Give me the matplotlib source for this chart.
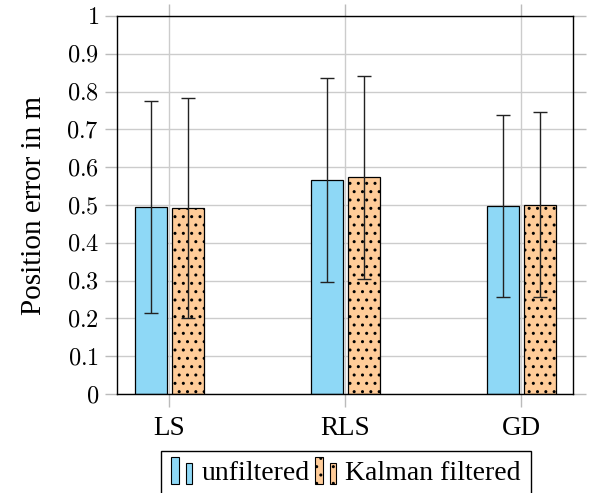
import numpy as np
import matplotlib
matplotlib.use("Agg")
import matplotlib.pyplot as plt
from matplotlib.patches import Rectangle
from matplotlib.legend_handler import HandlerBase

plt.rcParams['font.family'] = ['Liberation Serif', 'DejaVu Serif']
plt.rcParams['mathtext.fontset'] = 'cm'
plt.rcParams['hatch.linewidth'] = 1.0

# data
methods = ["LS", "RLS", "GD"]
unfiltered_mean = [0.495, 0.566, 0.497]
unfiltered_err = [0.280, 0.270, 0.241]
kalman_mean = [0.492, 0.573, 0.501]
kalman_err = [0.290, 0.268, 0.245]
y_ticks = [0, 0.1, 0.2, 0.3, 0.4, 0.5, 0.6, 0.7, 0.8, 0.9, 1]

blue = "#8ed8f6"
orange = "#ffcc99"


class TwoBarHandler(HandlerBase):
    # pgfplots style ybar legend: two small bars
    def create_artists(self, legend, orig, xd, yd, width, height, fontsize, trans):
        fc = orig.get_facecolor()
        hatch = orig.get_hatch()
        r1 = Rectangle((xd + 0.0 * width, yd - 0.2 * height), 0.33 * width, 1.4 * height,
                       facecolor=fc, edgecolor="black", lw=0.8, hatch=hatch, transform=trans)
        r2 = Rectangle((xd + 0.6 * width, yd - 0.2 * height), 0.26 * width, 1.05 * height,
                       facecolor=fc, edgecolor="black", lw=0.8, hatch=hatch, transform=trans)
        return [r1, r2]


fig = plt.figure(figsize=(5.9, 4.93), dpi=100)
ax = fig.add_axes([0.1983, 0.2008, 0.7729, 0.7667])

x = np.arange(len(methods))
w = 0.18
off = 0.105
b1 = ax.bar(x - off, unfiltered_mean, w, color=blue, edgecolor="black", linewidth=0.9,
            label="unfiltered", zorder=2)
b2 = ax.bar(x + off, kalman_mean, w, color=orange, edgecolor="black", linewidth=0.9,
            hatch="..", label="Kalman filtered", zorder=2)
ax.errorbar(x - off, unfiltered_mean, yerr=unfiltered_err, fmt="none", ecolor="#222222",
            elinewidth=1, capsize=5, capthick=1, zorder=3)
ax.errorbar(x + off, kalman_mean, yerr=kalman_err, fmt="none", ecolor="#222222",
            elinewidth=1, capsize=5, capthick=1, zorder=3)

ax.set_xlim(-0.297, 2.294)
ax.set_ylim(0, 1)
ax.set_xticks(x)
ax.set_xticklabels(methods, fontsize=19.5)
ax.set_yticks(y_ticks)
ax.set_yticklabels(["$%g$" % t for t in y_ticks], fontsize=17.5)
ax.set_ylabel("Position error in m", fontsize=21, labelpad=14)

ax.set_axisbelow(True)
ax.grid(True, color="#cccccc", linewidth=1)
ax.tick_params(axis="both", direction="out", length=9, width=1, color="#bbbbbb",
               top=True, right=True, pad=4)
ax.tick_params(axis="x", pad=7)
for s in ax.spines.values():
    s.set_color("black")
    s.set_linewidth(1)

h1 = b1.patches[0]
h2 = b2.patches[0]
fig.legend(handles=[h1, h2], labels=["unfiltered", "Kalman filtered"],
           handler_map={h1: TwoBarHandler(), h2: TwoBarHandler()},
           loc="center", bbox_to_anchor=(0.586, 0.04), ncol=2, fontsize=20,
           frameon=True, fancybox=False, edgecolor="black", framealpha=1,
           handlelength=0.9, handletextpad=0.2, columnspacing=0.2, borderpad=0.35)

fig.savefig("out.png", dpi=100)
